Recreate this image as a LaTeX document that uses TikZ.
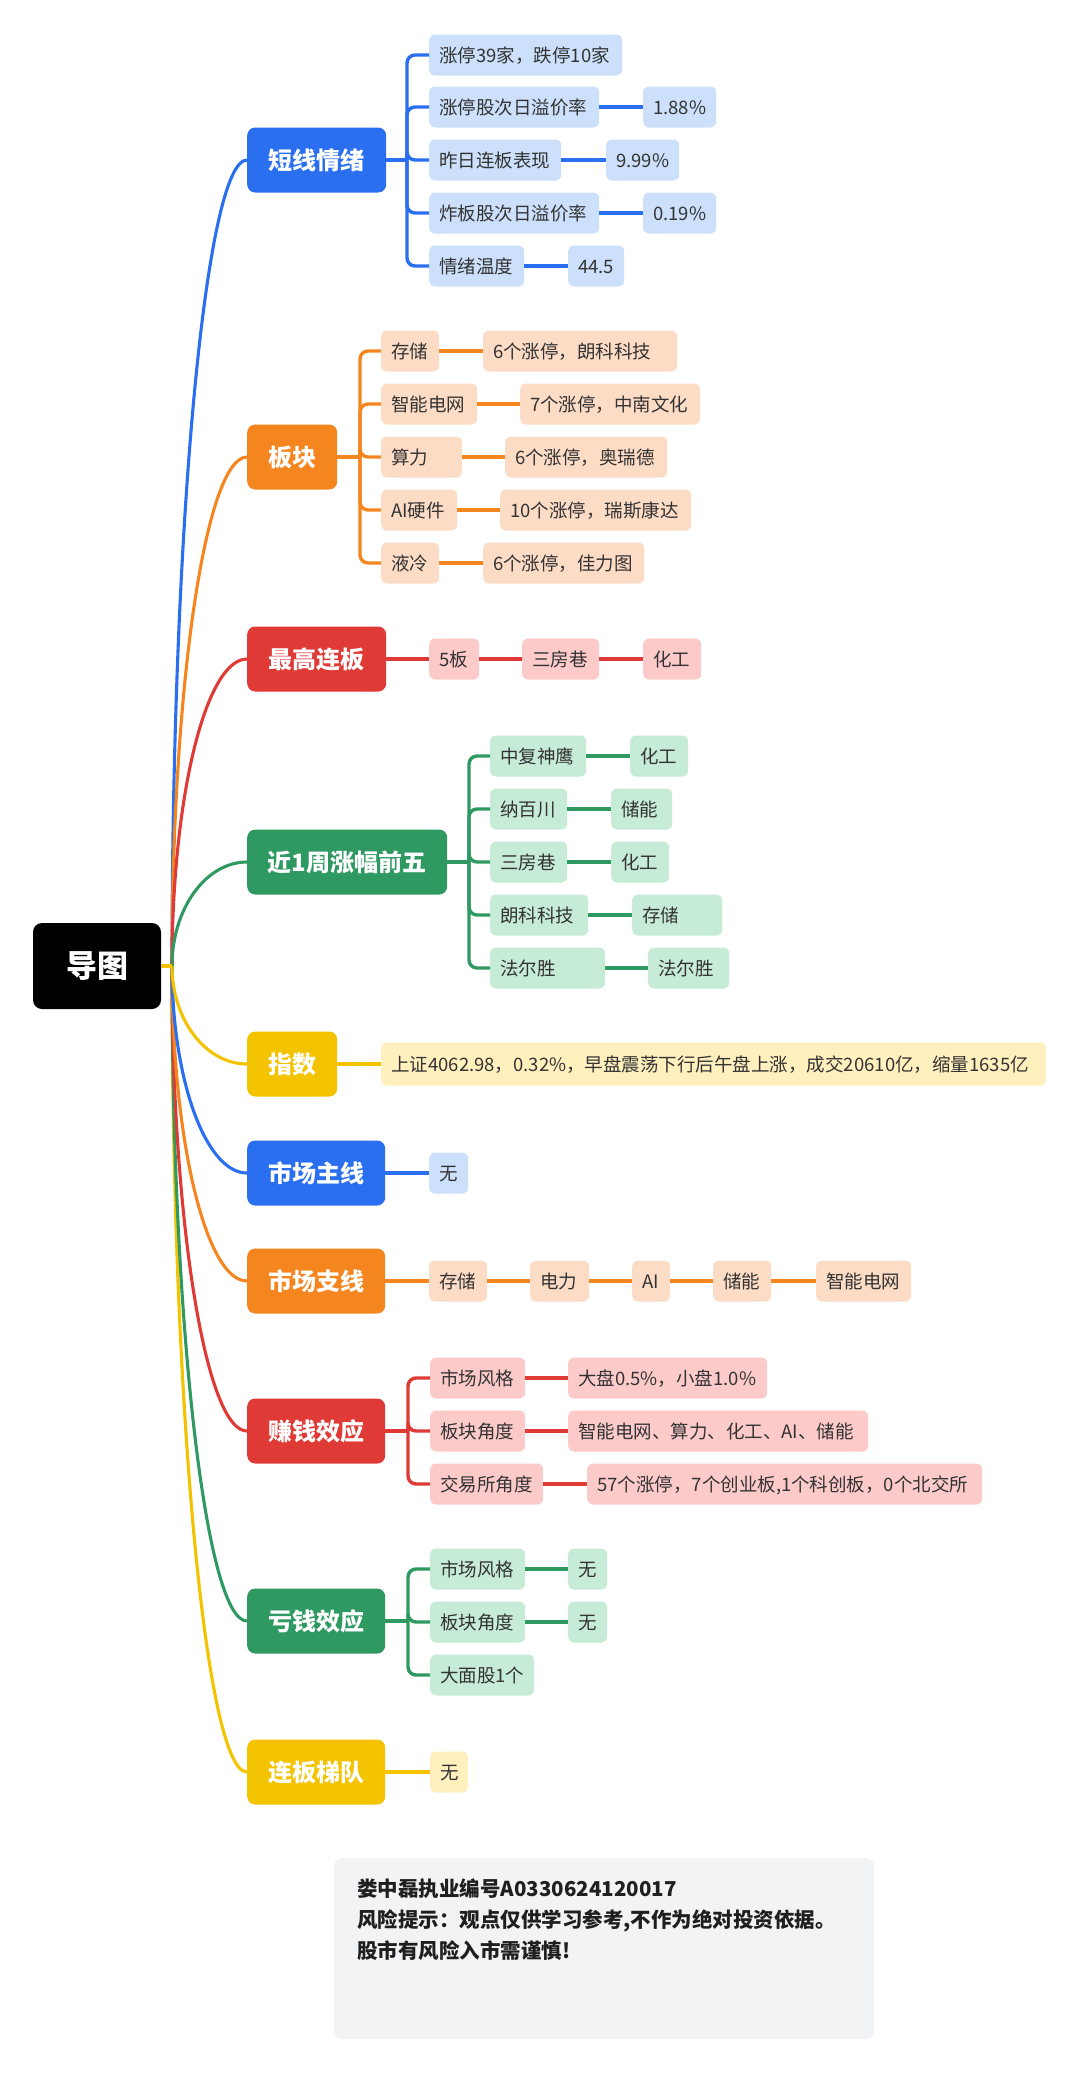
\documentclass[tikz,border=0pt]{standalone}
\usepackage{fontspec}
\setmainfont{Noto Sans CJK SC}
\usetikzlibrary{calc}
\definecolor{cb}{HTML}{2A6FEF}
\definecolor{cbl}{HTML}{CCE0FB}
\definecolor{co}{HTML}{F5861F}
\definecolor{col}{HTML}{FDDCC6}
\definecolor{cr}{HTML}{E03A36}
\definecolor{crl}{HTML}{FDCACA}
\definecolor{cg}{HTML}{2E9A62}
\definecolor{cgl}{HTML}{C6EBD7}
\definecolor{cy}{HTML}{F3C300}
\definecolor{cyl}{HTML}{FFF0BE}
\definecolor{txt}{HTML}{333333}
\definecolor{discbg}{HTML}{F2F3F5}
\definecolor{disctxt}{HTML}{1F1F1F}
\newcommand\mcurve[2]{\draw[#1, line width=3.1pt] (R) .. controls ($(R)!0.55!(R|-#2.west)$) and ($(#2.west)!0.55!(R|-#2.west)$) .. (#2.west);}
\begin{document}
\begin{tikzpicture}[x=1pt,y=-1pt,
  rootnode/.style={rounded corners=9pt, minimum width=128pt, minimum height=86pt, inner sep=0pt, fill=black, text=white, font=\fontsize{31}{31}\selectfont\bfseries, text height=24pt, text depth=1pt},
  mainnode/.style={rounded corners=8pt, minimum height=65pt, inner sep=0pt, anchor=west, text=white, font=\fontsize{24}{24}\selectfont\bfseries, text height=19pt, text depth=1pt},
  leaf/.style={rounded corners=6pt, minimum height=41pt, inner xsep=10pt, inner ysep=0pt, anchor=west, text=txt, font=\fontsize{18.5}{18.5}\selectfont, text height=15pt, text depth=1pt, align=left},
  lb/.style={leaf, fill=cbl}, lo/.style={leaf, fill=col}, lr/.style={leaf, fill=crl},
  lg/.style={leaf, fill=cgl}, ly/.style={leaf, fill=cyl},
  ln/.style={line width=3.4pt},
  eb/.style={ln, draw=cb}, eo/.style={ln, draw=co}, er/.style={ln, draw=cr},
  eg/.style={ln, draw=cg}, ey/.style={ln, draw=cy},
  tr/.style={rounded corners=8pt}
]
\useasboundingbox (0,0) rectangle (1080,2073);
\fill[white] (0,0) rectangle (1080,2073);

% root
\node[rootnode] (root) at (97,966) {导图};
\coordinate (R) at (172,966);

% main nodes
\node[mainnode, fill=cb, minimum width=139pt] (m1) at (247,160) {短线情绪};
\node[mainnode, fill=co, minimum width=90pt] (m2) at (247,457) {板块};
\node[mainnode, fill=cr, minimum width=139pt] (m3) at (247,659) {最高连板};
\node[mainnode, fill=cg, minimum width=200pt] (m4) at (247,862) {近1周涨幅前五};
\node[mainnode, fill=cy, minimum width=90pt] (m5) at (247,1064) {指数};
\node[mainnode, fill=cb, minimum width=138pt] (m6) at (247,1173) {市场主线};
\node[mainnode, fill=co, minimum width=138pt] (m7) at (247,1281) {市场支线};
\node[mainnode, fill=cr, minimum width=138pt] (m8) at (247,1431) {赚钱效应};
\node[mainnode, fill=cg, minimum width=138pt] (m9) at (247,1621) {亏钱效应};
\node[mainnode, fill=cy, minimum width=138pt] (m10) at (247,1772) {连板梯队};

% root curves
\mcurve{eb}{m1}
\mcurve{eo}{m2}
\mcurve{er}{m3}
\mcurve{eg}{m4}
\mcurve{ey}{m10}
\mcurve{eg}{m9}
\mcurve{er}{m8}
\mcurve{eo}{m7}
\mcurve{eb}{m6}
\mcurve{ey}{m5}
\draw[ey] (root.east) -- (R);

% branch 1
\node[lb, text width=173pt] (a1) at (429,55) {涨停39家，跌停10家};
\node[lb, text width=150pt] (a2) at (429,107) {涨停股次日溢价率};
\node[lb, text width=53pt] (a2c) at (643,107) {1.88\%};
\node[lb, text width=112pt] (a3) at (429,160) {昨日连板表现};
\node[lb, text width=53pt] (a3c) at (606,160) {9.99\%};
\node[lb, text width=150pt] (a4) at (429,213) {炸板股次日溢价率};
\node[lb, text width=53pt] (a4c) at (643,213) {0.19\%};
\node[lb, text width=75pt] (a5) at (429,266) {情绪温度};
\node[lb, text width=36pt] (a5c) at (568,266) {44.5};
\coordinate (t1) at (407,160);
\draw[eb] (m1.east) -- (t1);
\foreach \n in {a1,a2,a3,a4,a5} \draw[eb, tr] (t1) |- (\n.west);
\foreach \n in {a2,a3,a4,a5} \draw[eb] (\n.east) -- (\n c.west);

% branch 2
\node[lo, text width=38pt] (b1) at (381,351) {存储};
\node[lo, text width=174pt] (b1c) at (483,351) {6个涨停，朗科科技};
\node[lo, text width=76pt] (b2) at (381,404) {智能电网};
\node[lo, text width=160pt] (b2c) at (520,404) {7个涨停，中南文化};
\node[lo, text width=61pt] (b3) at (381,457) {算力};
\node[lo, text width=142pt] (b3c) at (505,457) {6个涨停，奥瑞德};
\node[lo, text width=56pt] (b4) at (381,510) {AI硬件};
\node[lo, text width=171pt] (b4c) at (500,510) {10个涨停，瑞斯康达};
\node[lo, text width=38pt] (b5) at (381,563) {液冷};
\node[lo, text width=141pt] (b5c) at (483,563) {6个涨停，佳力图};
\coordinate (t2) at (360,457);
\draw[eo] (m2.east) -- (t2);
\foreach \n in {b1,b2,b3,b4,b5} {\draw[eo, tr] (t2) |- (\n.west); \draw[eo] (\n.east) -- (\n c.west);}

% branch 3
\node[lr, text width=30pt] (d1) at (429,659) {5板};
\node[lr, text width=57pt] (d2) at (522,659) {三房巷};
\node[lr, text width=38pt] (d3) at (643,659) {化工};
\draw[er] (m3.east) -- (d1.west);
\draw[er] (d1.east) -- (d2.west);
\draw[er] (d2.east) -- (d3.west);

% branch 4
\node[lg, text width=76pt] (e1) at (490,756) {中复神鹰};
\node[lg, text width=38pt] (e1c) at (630,756) {化工};
\node[lg, text width=57pt] (e2) at (490,809) {纳百川};
\node[lg, text width=41pt] (e2c) at (611,809) {储能};
\node[lg, text width=57pt] (e3) at (490,862) {三房巷};
\node[lg, text width=38pt] (e3c) at (611,862) {化工};
\node[lg, text width=78pt] (e4) at (490,915) {朗科科技};
\node[lg, text width=70pt] (e4c) at (632,915) {存储};
\node[lg, text width=95pt] (e5) at (490,968) {法尔胜};
\node[lg, text width=61pt] (e5c) at (648,968) {法尔胜};
\coordinate (t4) at (469,862);
\draw[eg] (m4.east) -- (t4);
\foreach \n in {e1,e2,e3,e4,e5} {\draw[eg, tr] (t4) |- (\n.west); \draw[eg] (\n.east) -- (\n c.west);}

% branch 5
\node[ly, text width=645pt, minimum height=43pt] (f1) at (381,1064) {上证4062.98，0.32\%，早盘震荡下行后午盘上涨，成交20610亿，缩量1635亿};
\draw[ey] (m5.east) -- (f1.west);

% branch 6
\node[lb, text width=19pt] (g1) at (429,1173) {无};
\draw[eb] (m6.east) -- (g1.west);

% branch 7
\node[lo, text width=38pt] (h1) at (429,1281) {存储};
\node[lo, text width=39pt] (h2) at (530,1281) {电力};
\node[lo, text width=18pt] (h3) at (632,1281) {AI};
\node[lo, text width=38pt] (h4) at (713,1281) {储能};
\node[lo, text width=75pt] (h5) at (816,1281) {智能电网};
\draw[eo] (m7.east) -- (h1.west);
\draw[eo] (h1.east) -- (h2.west);
\draw[eo] (h2.east) -- (h3.west);
\draw[eo] (h3.east) -- (h4.west);
\draw[eo] (h4.east) -- (h5.west);

% branch 8
\node[lr, text width=75pt] (i1) at (430,1378) {市场风格};
\node[lr, text width=179pt] (i1c) at (568,1378) {大盘0.5\%，小盘1.0\%};
\node[lr, text width=75pt] (i2) at (430,1431) {板块角度};
\node[lr, text width=280pt] (i2c) at (568,1431) {智能电网、算力、化工、AI、储能};
\node[lr, text width=93pt] (i3) at (430,1484) {交易所角度};
\node[lr, text width=375pt] (i3c) at (587,1484) {57个涨停，7个创业板,1个科创板，0个北交所};
\coordinate (t8) at (408,1431);
\draw[er] (m8.east) -- (t8);
\foreach \n in {i1,i2,i3} {\draw[er, tr] (t8) |- (\n.west); \draw[er] (\n.east) -- (\n c.west);}

% branch 9
\node[lg, text width=75pt] (j1) at (430,1569) {市场风格};
\node[lg, text width=19pt] (j1c) at (568,1569) {无};
\node[lg, text width=75pt] (j2) at (430,1622) {板块角度};
\node[lg, text width=19pt] (j2c) at (568,1622) {无};
\node[lg, text width=84pt] (j3) at (430,1675) {大面股1个};
\coordinate (t9) at (408,1621);
\draw[eg] (m9.east) -- (t9);
\foreach \n in {j1,j2,j3} \draw[eg, tr] (t9) |- (\n.west);
\foreach \n in {j1,j2} \draw[eg] (\n.east) -- (\n c.west);

% branch 10
\node[ly, text width=18pt] (k1) at (430,1772) {无};
\draw[ey] (m10.east) -- (k1.west);

% disclaimer
\node[fill=discbg, rounded corners=8pt, minimum width=540pt, minimum height=181pt, inner sep=0pt, anchor=north west] (disc) at (334,1858) {};
\begin{scope}[every node/.style={anchor=base west, inner sep=0pt, text=disctxt, font=\fontsize{20.5}{20.5}\selectfont\bfseries}]
\node (dt1) at (357,1896) {娄中磊执业编号A0330624120017};
\node (dt2) at (357,1927) {风险提示：观点仅供学习参考,不作为绝对投资依据。};
\node (dt3) at (357,1958) {股市有风险入市需谨慎!};
\end{scope}
\end{tikzpicture}
\end{document}
